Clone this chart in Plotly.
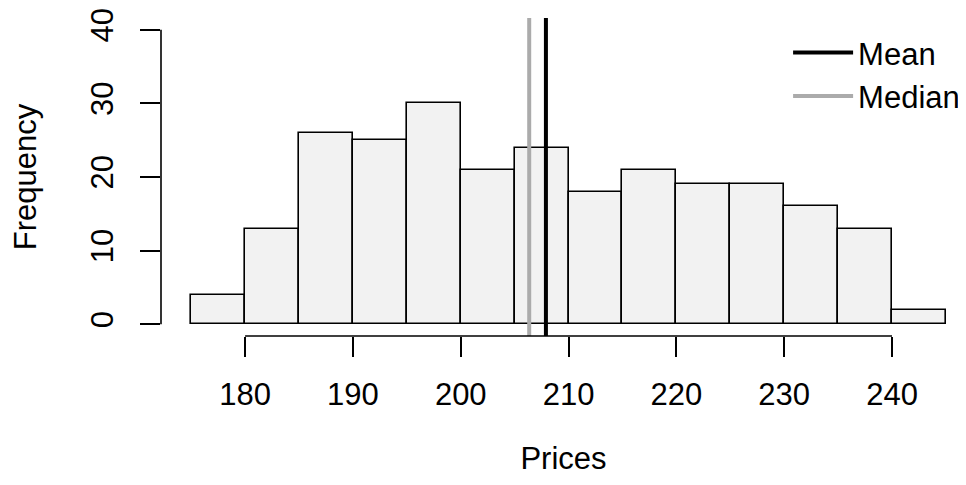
import plotly.graph_objects as go

# Data
breaks = [175, 180, 185, 190, 195, 200, 205, 210, 215, 220, 225, 230, 235, 240, 245]
counts = [4, 13, 26, 25, 30, 21, 24, 18, 21, 19, 19, 16, 13, 2]
mean_price = 207.9
median_price = 206.35
x_ticks = [180, 190, 200, 210, 220, 230, 240]
y_ticks = [0, 10, 20, 30, 40]

centers = [(a + b) / 2 for a, b in zip(breaks[:-1], breaks[1:])]
widths = [b - a for a, b in zip(breaks[:-1], breaks[1:])]

FONT = "Liberation Sans, Arial, sans-serif"
FS = 31

x_range = [172.2, 246.86]
y_range = [-1.6, 41.6]

fig = go.Figure()
fig.add_trace(go.Bar(
    x=centers, y=counts, width=widths,
    marker=dict(color="#F2F2F2", line=dict(color="black", width=1.6)),
    showlegend=False, hoverinfo="x+y",
))
fig.add_trace(go.Scatter(
    x=[mean_price, mean_price], y=y_range, mode="lines",
    line=dict(color="black", width=4), name="Mean",
))
fig.add_trace(go.Scatter(
    x=[median_price, median_price], y=y_range, mode="lines",
    line=dict(color="#ABABAB", width=4), name="Median",
))

# R-style axis lines spanning first to last tick
fig.add_shape(type="line", xref="x", yref="paper", x0=x_ticks[0], x1=x_ticks[-1],
              y0=0, y1=0, line=dict(color="black", width=1.6))
fig.add_shape(type="line", xref="paper", yref="y", x0=0, x1=0,
              y0=y_ticks[0], y1=y_ticks[-1], line=dict(color="black", width=1.6))

# page has an 8px body margin, so the figure is 8px smaller on each dimension
fig.update_layout(
    width=958, height=477,
    margin=dict(l=153, r=0, t=10, b=149, autoexpand=False),
    paper_bgcolor="white", plot_bgcolor="white",
    font=dict(family=FONT, size=FS, color="black"),
    bargap=0,
    xaxis=dict(
        range=x_range, tickvals=x_ticks, ticktext=[str(v) for v in x_ticks],
        ticks="outside", ticklen=20, tickwidth=1.6, tickcolor="black",
        tickfont=dict(size=FS), ticklabeloverflow="allow",
        showline=False, showgrid=False, zeroline=False,
        ticklabelstandoff=11,
        title=dict(text="Prices", standoff=36, font=dict(size=FS)),
        automargin=False,
    ),
    yaxis=dict(
        range=y_range, tickvals=y_ticks, ticktext=[str(v) for v in y_ticks],
        ticks="outside", ticklen=20, tickwidth=1.6, tickcolor="black",
        tickfont=dict(size=FS), ticklabeloverflow="allow",
        tickangle=-90,
        showline=False, showgrid=False, zeroline=False,
        ticklabelstandoff=15,
        title=dict(text="Frequency", standoff=42, font=dict(size=FS)),
        automargin=False,
    ),
    legend=dict(
        x=0.779, y=0.975, xanchor="left", yanchor="top",
        bgcolor="rgba(0,0,0,0)", font=dict(size=FS),
        itemwidth=60, tracegroupgap=0,
    ),
)

fig.write_html("out.html")
